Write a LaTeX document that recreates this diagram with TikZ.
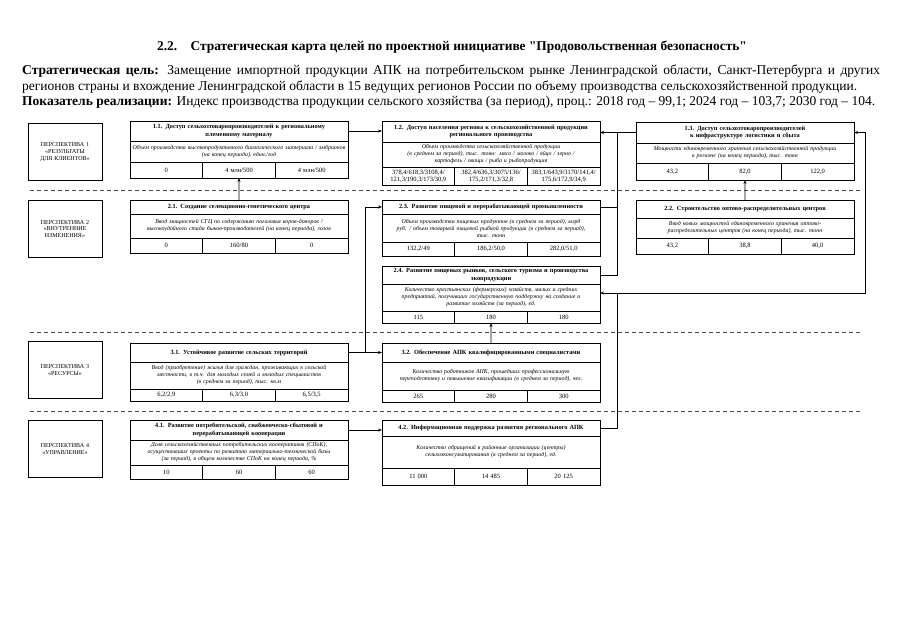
\documentclass[tikz,border=0pt]{standalone}
\usepackage{fontspec}
\setmainfont{Liberation Serif}
\usetikzlibrary{positioning,arrows.meta,calc}

% straight double quote, no TeX mapping
\newcommand{\sq}{{\XeTeXglyph\the\XeTeXcharglyph"22\relax}}
% one goal: title row and indicator row
\newcommand{\goalbox}[7]{%
  \node[titlecell,minimum height=#4] (#1) at (#2,#3) {#6};
  \node[desccell,minimum height=#5,below=0pt of #1] (#1d) {#7};
}
% three values under the indicator
\newcommand{\goalvals}[5]{%
  \node[valcell,minimum height=#2,anchor=north west] (#1a) at (#1d.south west) {#3};
  \node[valcell,minimum height=#2,right=0pt of #1a] (#1b) {#4};
  \node[valcell,minimum height=#2,right=0pt of #1b] (#1c) {#5};
}

\begin{document}
\begin{tikzpicture}[x=1pt,y=-1pt,
  cell/.style={draw,line width=0.7pt,outer sep=0pt,inner sep=2pt,align=center},
  titlecell/.style={cell,anchor=north west,text width=214pt,font=\fontsize{6.3}{7.3}\selectfont\bfseries},
  desccell/.style={cell,text width=214pt,font=\fontsize{5.9}{7}\selectfont\itshape},
  valcell/.style={cell,text width=68.67pt,font=\fontsize{6.5}{7}\selectfont},
  persp/.style={draw,line width=0.7pt,minimum width=74pt,minimum height=57pt,text width=70pt,align=center,inner sep=2pt,font=\fontsize{6}{6.8}\selectfont},
  sep/.style={black!70,line width=0.6pt,dash pattern=on 4pt off 3pt},
  conn/.style={line width=0.7pt},
  arr/.style={conn,-{Stealth[length=4pt,width=3pt]}}]
\useasboundingbox (0,0) rectangle (905,640);

\node[font=\fontsize{13.4}{16}\selectfont\bfseries] (head) at (452,47) {2.2.\quad Стратегическая карта целей по проектной инициативе \sq Продовольственная безопасность\sq};
\node[anchor=north west,text width=858pt,inner sep=0pt,align=justify,font=\fontsize{13.5}{15.5}\selectfont] (aim) at (22,65)
  {{\bfseries Стратегическая цель:} Замещение импортной продукции АПК на потребительском рынке Ленинградской области, Санкт-Петербурга и других\linebreak
   регионов страны и вхождение Ленинградской области в 15 ведущих регионов России по объему производства сельскохозяйственной продукции.\\
   {\bfseries Показатель реализации:} Индекс производства продукции сельского хозяйства (за период), проц.: 2018 год -- 99,1; 2024 год -- 103,7; 2030 год -- 104.};

% perspectives
\node[persp] (p1) at (65,152) {ПЕРСПЕКТИВА 1\\ «РЕЗУЛЬТАТЫ ДЛЯ КЛИЕНТОВ»};
\node[persp] (p2) at (65,229) {ПЕРСПЕКТИВА 2\\ «ВНУТРЕННИЕ ИЗМЕНЕНИЯ»};
\node[persp] (p3) at (65,370) {ПЕРСПЕКТИВА 3\\ «РЕСУРСЫ»};
\node[persp] (p4) at (65,449) {ПЕРСПЕКТИВА 4\\ «УПРАВЛЕНИЕ»};

\draw[sep] (30,190) -- (862,190);
\draw[sep] (30,332) -- (862,332);
\draw[sep] (30,411) -- (862,411);

% row 1
\goalbox{g11}{130}{121}{20}{21}{1.1. Доступ сельхозтоваропроизводителей к региональному\\ племенному материалу}{Объем производства высокопродуктивного биологического материала / эмбрионов\\ (на конец периода), един./год}
\goalvals{g11}{16}{0}{4 млн/500}{4 млн/500}
\goalbox{g12}{382}{121}{21}{25}{1.2. Доступ населения региона к сельскохозяйственной продукции\\ регионального производства}{Объем производства сельскохозяйственной продукции\\ (в среднем за период), тыс. тонн: мясо / молоко / яйцо / зерно /\\ картофель / овощи / рыба и рыбопродукция}
\goalvals{g12}{18}{378,4/618,3/3108,4/\\ 121,3/190,3/173/30,9}{382,4/636,3/3075/136/\\ 175,2/171,3/32,8}{383,1/643,9/3170/141,4/\\ 175,6/172,9/34,9}
\goalbox{g13}{636}{122}{21}{20}{1.3. Доступ сельхозтоваропроизводителей\\ к инфраструктуре логистики и сбыта}{Мощности единовременного хранения сельскохозяйственной продукции\\ в регионе (на конец периода), тыс. тонн}
\goalvals{g13}{17}{43,2}{82,0}{122,0}

% row 2
\goalbox{g21}{130}{200}{14}{24}{2.1. Создание селекционно-генетического центра}{Ввод мощностей СГЦ по содержанию поголовья коров-доноров /\\ высокоудойного стада быков-производителей (на конец периода), голов}
\goalvals{g21}{15}{0}{160/80}{0}
\goalbox{g23}{382}{200}{14}{28}{2.3. Развитие пищевой и перерабатывающей промышленности}{Объем производства пищевых продуктов (в среднем за период), млрд\\ руб. / объем товарной пищевой рыбной продукции (в среднем за период),\\ тыс. тонн}
\goalvals{g23}{14}{132,2/49}{186,2/50,0}{282,0/51,0}
\goalbox{g22}{636}{200}{18}{20}{2.2. Строительство оптово-распределительных центров}{Ввод новых мощностей единовременного хранения оптово-\\распределительных центров (на конец периода), тыс. тонн}
\goalvals{g22}{16}{43,2}{38,8}{40,0}
\goalbox{g24}{382}{266}{18}{27}{2.4. Развитие пищевых рынков, сельского туризма и производства\\ экопродукции}{Количество крестьянских (фермерских) хозяйств, малых и средних\\ предприятий, получивших государственную поддержку на создание и\\ развитие хозяйств (за период), ед.}
\goalvals{g24}{12}{115}{180}{180}

% row 3
\goalbox{g31}{130}{343}{19}{27}{3.1. Устойчивое развитие сельских территорий}{Ввод (приобретение) жилья для граждан, проживающих в сельской\\ местности, в т.ч. для молодых семей и молодых специалистов\\ (в среднем за период), тыс. кв.м}
\goalvals{g31}{12}{6,2/2,9}{6,3/3,0}{6,5/3,5}
\goalbox{g32}{382}{343}{19}{28}{3.2. Обеспечение АПК квалифицированными специалистами}{Количество работников АПК, прошедших профессиональную\\ переподготовку и повышение квалификации (в среднем за период), чел.}
\goalvals{g32}{12}{265}{280}{300}

% row 4
\goalbox{g41}{130}{420}{20}{25}{4.1. Развитие потребительской, снабженческо-сбытовой и\\ перерабатывающей кооперации}{Доля сельскохозяйственных потребительских кооперативов (СПоК),\\ осуществивших проекты по развитию материально-технической базы\\ (за период), в общем количестве СПоК на конец периода, \%}
\goalvals{g41}{14}{10}{60}{60}
\goalbox{g42}{382}{420}{16}{32}{4.2. Информационная поддержка развития регионального АПК}{Количество обращений в районные организации (центры)\\ сельхозконсультирования (в среднем за период), ед.}
\goalvals{g42}{17}{11 000}{14 485}{20 125}

% connectors
\path (g13.west) ++(-19,0) coordinate (jr);
\coordinate (jl) at ($(g31.east)!0.5!(g32.west)$);
\coordinate (jb) at (617,293);
\coordinate (jf) at (865,293);

\draw[arr] (g11.east) -- (g11.east -| g12.west);
\draw[arr] (g21.north) -- (g11b.south);
\draw[arr] (g13.west) -- (g13.west -| g12.east);
\draw[conn] (g23.east) -| (jr);
\draw[conn] (g24.east) -| (jr);
\draw[arr] (g22.north) -- (g13b.south);
\draw[arr] (g31.east) -- (g32.west);
\draw[arr] (jl) |- (g23.west);
\draw[arr] (g32.north) -- (g24b.south);
\draw[arr] (g41.east) -- (g41.east -| g42.west);
\draw[conn] (g42.east) -| (jb);
\draw[arr] (jb) -- (jb -| g24d.east);
\draw[arr] (jb) -- (jf) |- (g13.east);

\end{tikzpicture}
\end{document}
